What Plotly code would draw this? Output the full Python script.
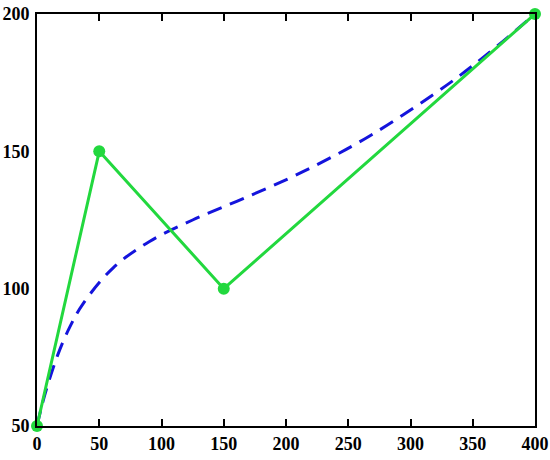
import plotly.graph_objects as go

# control polygon (green)
ctrl_x = [0, 50, 150, 400]
ctrl_y = [50, 150, 100, 200]

# curve (blue dashed)
curve_x = [0, 3.8, 7.9, 16.6, 26.2, 36.8, 61.2, 90.4, 125, 165.6, 212.8, 267.2, 329.4, 363.6, 400]
curve_y = [50, 57.2, 63.9, 75.8, 85.9, 94.4, 107.6, 117.2, 125, 132.8, 142.4, 155.6, 174.2, 186.1, 200]

xticks = [0, 50, 100, 150, 200, 250, 300, 350, 400]
yticks = [50, 100, 150, 200]

fig = go.Figure()
fig.add_trace(go.Scatter(x=curve_x, y=curve_y, mode="lines", line_shape="spline",
                         line=dict(color="#1414dc", width=3, dash="15px,9px"), cliponaxis=False))
fig.add_trace(go.Scatter(x=ctrl_x, y=ctrl_y, mode="lines+markers",
                         line=dict(color="#22d83e", width=3),
                         marker=dict(color="#22d83e", size=12), cliponaxis=False))

font = dict(family="Liberation Serif", size=18, color="black")
fig.update_layout(
    width=550, height=460, showlegend=False,
    margin=dict(l=37, r=15, t=14, b=34),
    paper_bgcolor="white", plot_bgcolor="white",
    font=font,
    xaxis=dict(range=[0, 400], tickvals=xticks, ticktext=[f"<b>{v}</b>" for v in xticks],
               ticks="inside", ticklen=7, tickwidth=2, tickcolor="black",
               showline=True, linecolor="black", linewidth=2, mirror="ticks",
               showgrid=False, zeroline=False, automargin=False),
    yaxis=dict(range=[50, 200], tickvals=yticks, ticktext=[f"<b>{v}</b>" for v in yticks],
               ticks="", showline=True, linecolor="black", linewidth=2, mirror=True,
               showgrid=False, zeroline=False, ticklabelstandoff=2, automargin=False),
)
# drop the page's default body margin so the figure fills the window
fig.write_html("out.html", config={"displayModeBar": False},
               post_script="document.body.style.margin='0';document.body.style.overflow='hidden';")
